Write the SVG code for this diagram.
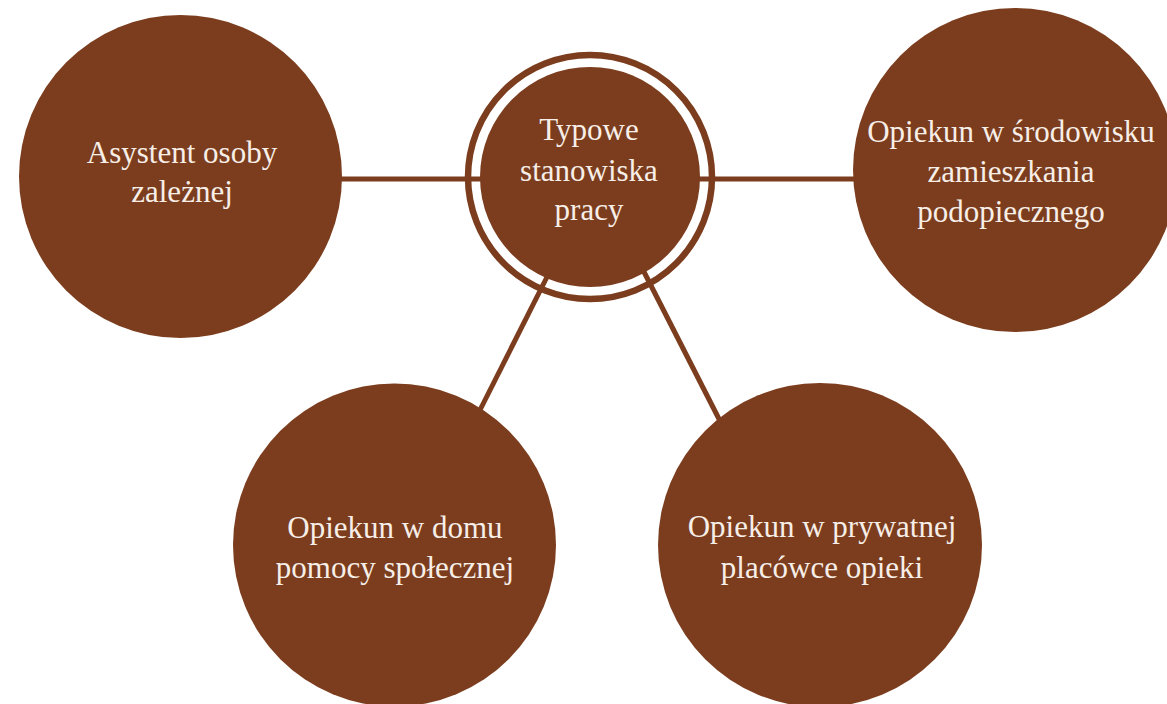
<svg xmlns="http://www.w3.org/2000/svg" width="1167" height="704" viewBox="0 0 1167 704">
<style>
.node{fill:#7b3d1d}
.ring{fill:none;stroke:#7b3d1d;stroke-width:6.5}
.conn{stroke:#7b3d1d;stroke-width:5;fill:none}
.lbl{font-family:"Liberation Serif","DejaVu Serif",serif;font-size:31px;fill:#f7eee8;text-anchor:middle}
</style>
<rect width="1167" height="704" fill="#ffffff"/>
<g id="connectors">
<line class="conn" x1="340" y1="179" x2="482" y2="179"/>
<line class="conn" x1="698" y1="179" x2="856" y2="179"/>
<line class="conn" x1="548" y1="275" x2="480" y2="410"/>
<line class="conn" x1="641" y1="266" x2="719" y2="419"/>
</g>
<g id="center">
<circle class="ring" cx="590" cy="177" r="122"/>
<circle class="node" cx="590" cy="177" r="110"/>
<text class="lbl" x="589" y="140">Typowe</text>
<text class="lbl" x="589" y="181">stanowiska</text>
<text class="lbl" x="589" y="220">pracy</text>
</g>
<g id="n1">
<circle class="node" cx="180.5" cy="176.5" r="161.5"/>
<text class="lbl" x="182" y="163">Asystent osoby</text>
<text class="lbl" x="182" y="202">zależnej</text>
</g>
<g id="n2">
<circle class="node" cx="1015" cy="170" r="162"/>
<text class="lbl" x="1011" y="142">Opiekun w środowisku</text>
<text class="lbl" x="1011" y="182">zamieszkania</text>
<text class="lbl" x="1011" y="222">podopiecznego</text>
</g>
<g id="n3">
<circle class="node" cx="394.5" cy="545" r="161.5"/>
<text class="lbl" x="395" y="538">Opiekun w domu</text>
<text class="lbl" x="395" y="578">pomocy społecznej</text>
</g>
<g id="n4">
<circle class="node" cx="820" cy="545" r="162"/>
<text class="lbl" x="822" y="537">Opiekun w prywatnej</text>
<text class="lbl" x="822" y="578">placówce opieki</text>
</g>
</svg>
